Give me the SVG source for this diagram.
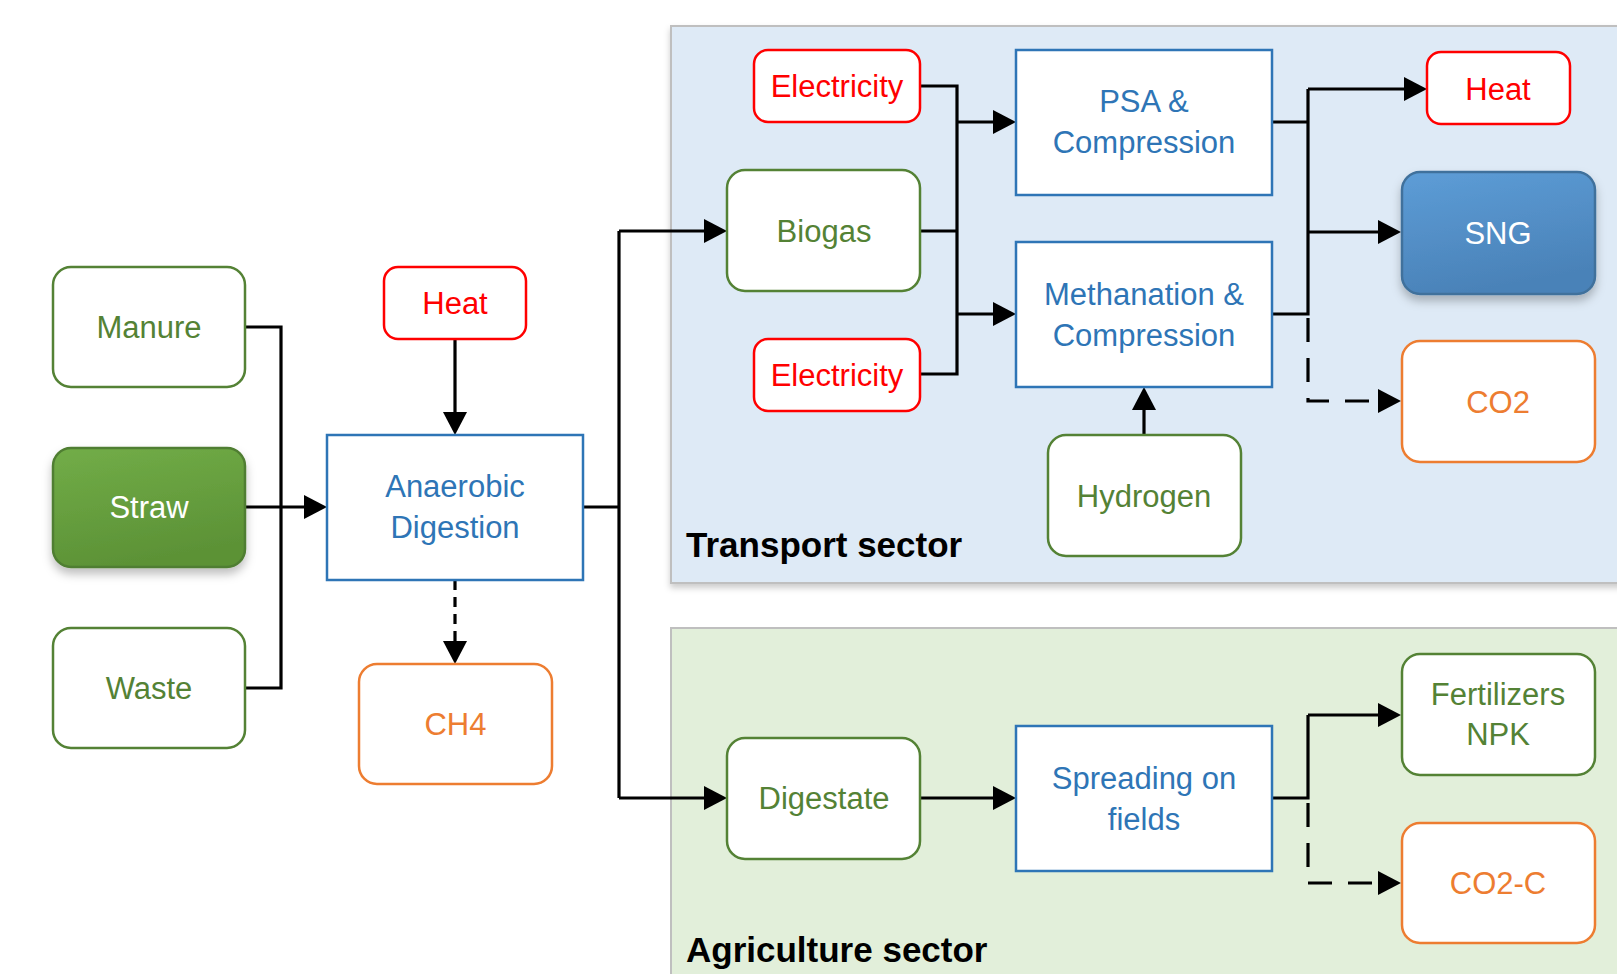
<svg xmlns="http://www.w3.org/2000/svg" width="1617" height="974" viewBox="0 0 1617 974">
<defs>
<style>
.t{font-family:"Liberation Sans",Arial,sans-serif;font-size:31px;text-anchor:middle}
.g{fill:#548235}.b{fill:#2E75B6}.r{fill:#FF0000}.o{fill:#ED7D31}.w{fill:#FFFFFF}
.ng{fill:#FFFFFF;stroke:#548235;stroke-width:2.5}
.nr{fill:#FFFFFF;stroke:#FF0000;stroke-width:2.5}
.no{fill:#FFFFFF;stroke:#ED7D31;stroke-width:2.5}
.nb{fill:#FFFFFF;stroke:#2E75B6;stroke-width:2.5}
.c{fill:none;stroke:#000000;stroke-width:3.2}
.a{marker-end:url(#ah)}
.d1{stroke-dasharray:10,7}
.d2{stroke-dasharray:24,16}
.lbl{font-family:"Liberation Sans",Arial,sans-serif;font-size:35px;font-weight:bold;fill:#000000}
</style>
<marker id="ah" markerWidth="23" markerHeight="24" refX="0" refY="12" orient="auto" markerUnits="userSpaceOnUse"><path d="M0,0 L23,12 L0,24 z" fill="#000000"/></marker>
<linearGradient id="gStraw" x1="0" y1="0" x2="0.3" y2="1"><stop offset="0" stop-color="#72AD48"/><stop offset="1" stop-color="#5C9236"/></linearGradient>
<linearGradient id="gSng" x1="0" y1="0" x2="0.3" y2="1"><stop offset="0" stop-color="#5D9DD7"/><stop offset="1" stop-color="#4A82B8"/></linearGradient>
<filter id="sh" x="-20%" y="-20%" width="140%" height="150%"><feDropShadow dx="0" dy="6" stdDeviation="5" flood-color="#000000" flood-opacity="0.25"/></filter>
<filter id="psh" x="-5%" y="-5%" width="110%" height="115%"><feDropShadow dx="0" dy="4" stdDeviation="3" flood-color="#000000" flood-opacity="0.2"/></filter>
</defs>
<rect width="1617" height="974" fill="#FFFFFF"/>
<g id="transport-sector">
<rect x="671" y="26" width="960" height="557" fill="#DEEAF6" stroke="#BFBFBF" stroke-width="2" filter="url(#psh)"/>
<text class="lbl" x="686" y="557">Transport sector</text>
</g>
<g id="agriculture-sector">
<rect x="671" y="628" width="960" height="360" fill="#E2EFDA" stroke="#BFBFBF" stroke-width="2"/>
<text class="lbl" x="686" y="962">Agriculture sector</text>
</g>
<g id="connectors">
<path class="c" d="M245,327 H281 V688 H245"/>
<path class="c a" d="M245,507 H304"/>
<path class="c a" d="M455,339 V412"/>
<path class="c d1 a" d="M455,580 V641"/>
<path class="c" d="M583,507 H619"/>
<path class="c" d="M619,231 V798"/>
<path class="c a" d="M619,231 H704"/>
<path class="c a" d="M619,798 H704"/>
<path class="c" d="M920,86 H957 V374 H920"/>
<path class="c" d="M920,231 H957"/>
<path class="c a" d="M957,122 H993"/>
<path class="c a" d="M957,314 H993"/>
<path class="c a" d="M1144,435 V410"/>
<path class="c" d="M1271,122 H1308"/>
<path class="c" d="M1271,314 H1308 V89"/>
<path class="c a" d="M1308,89 H1404"/>
<path class="c a" d="M1308,232 H1378"/>
<path class="c d2 a" d="M1308,318 V401 H1378"/>
<path class="c a" d="M920,798 H993"/>
<path class="c" d="M1271,798 H1308 V715"/>
<path class="c a" d="M1308,715 H1378"/>
<path class="c d2 a" d="M1308,803 V883 H1378"/>
</g>
<g id="manure"><rect class="ng" x="53" y="267" width="192" height="120" rx="18"/><text class="t g" x="149" y="338">Manure</text></g>
<g id="straw"><rect x="53" y="448" width="192" height="119" rx="18" fill="url(#gStraw)" stroke="#507E32" stroke-width="2.5" filter="url(#sh)"/><text class="t w" x="149" y="518">Straw</text></g>
<g id="waste"><rect class="ng" x="53" y="628" width="192" height="120" rx="18"/><text class="t g" x="149" y="699">Waste</text></g>
<g id="heat-left"><rect class="nr" x="384" y="267" width="142" height="72" rx="14"/><text class="t r" x="455" y="314">Heat</text></g>
<g id="anaerobic-digestion"><rect class="nb" x="327" y="435" width="256" height="145"/><text class="t b" x="455" y="497">Anaerobic</text><text class="t b" x="455" y="538">Digestion</text></g>
<g id="ch4"><rect class="no" x="359" y="664" width="193" height="120" rx="18"/><text class="t o" x="455.5" y="735">CH4</text></g>
<g id="electricity-top"><rect class="nr" x="754" y="50" width="166" height="72" rx="14"/><text class="t r" x="837" y="97">Electricity</text></g>
<g id="biogas"><rect class="ng" x="727" y="170" width="193" height="121" rx="18"/><text class="t g" x="824" y="242">Biogas</text></g>
<g id="electricity-bottom"><rect class="nr" x="754" y="339" width="166" height="72" rx="14"/><text class="t r" x="837" y="386">Electricity</text></g>
<g id="psa-compression"><rect class="nb" x="1016" y="50" width="256" height="145"/><text class="t b" x="1144" y="112">PSA &amp;</text><text class="t b" x="1144" y="153">Compression</text></g>
<g id="methanation-compression"><rect class="nb" x="1016" y="242" width="256" height="145"/><text class="t b" x="1144" y="305">Methanation &amp;</text><text class="t b" x="1144" y="346">Compression</text></g>
<g id="hydrogen"><rect class="ng" x="1048" y="435" width="193" height="121" rx="18"/><text class="t g" x="1144" y="507">Hydrogen</text></g>
<g id="heat-right"><rect class="nr" x="1427" y="52" width="143" height="72" rx="14"/><text class="t r" x="1498" y="100">Heat</text></g>
<g id="sng"><rect x="1402" y="172" width="193" height="122" rx="18" fill="url(#gSng)" stroke="#41719C" stroke-width="2.5" filter="url(#sh)"/><text class="t w" x="1498" y="244">SNG</text></g>
<g id="co2"><rect class="no" x="1402" y="341" width="193" height="121" rx="18"/><text class="t o" x="1498" y="413">CO2</text></g>
<g id="digestate"><rect class="ng" x="727" y="738" width="193" height="121" rx="18"/><text class="t g" x="824" y="809">Digestate</text></g>
<g id="spreading-on-fields"><rect class="nb" x="1016" y="726" width="256" height="145"/><text class="t b" x="1144" y="789">Spreading on</text><text class="t b" x="1144" y="830">fields</text></g>
<g id="fertilizers-npk"><rect class="ng" x="1402" y="654" width="193" height="121" rx="18"/><text class="t g" x="1498" y="705">Fertilizers</text><text class="t g" x="1498" y="745">NPK</text></g>
<g id="co2-c"><rect class="no" x="1402" y="823" width="193" height="120" rx="18"/><text class="t o" x="1498" y="894">CO2-C</text></g>
</svg>
